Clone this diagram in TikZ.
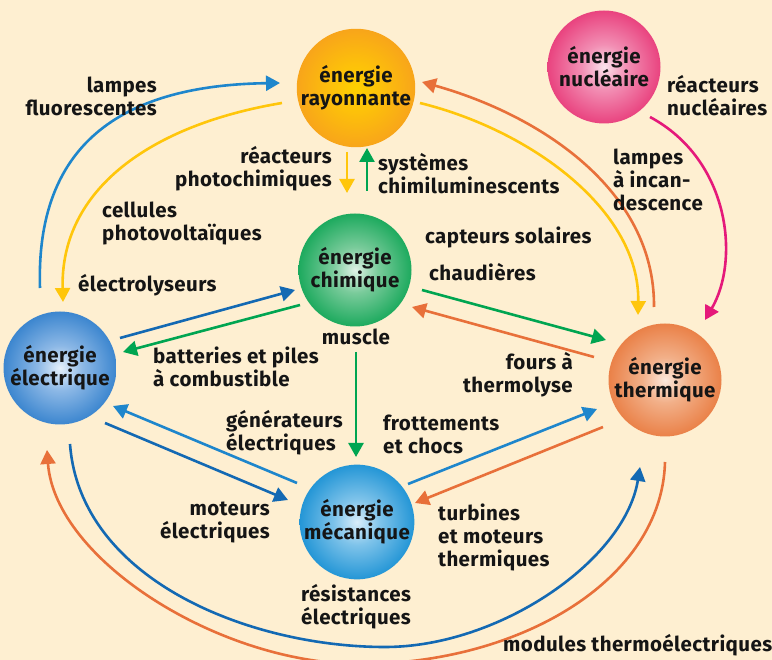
\documentclass[tikz,border=0pt]{standalone}
\usepackage{fontspec}
\setmainfont{Fira Sans}[LetterSpace=2]
\usetikzlibrary{arrows.meta}
\definecolor{bg}{HTML}{FEEFD1}
\definecolor{cblue}{HTML}{1E86CC}
\definecolor{cdblue}{HTML}{1369B3}
\definecolor{cyel}{HTML}{FFC60B}
\definecolor{cgreen}{HTML}{00A551}
\definecolor{corange}{HTML}{E8703A}
\definecolor{cpink}{HTML}{E5197A}
\definecolor{ink}{HTML}{151515}
\pgfdeclareradialshading{ballray}{\pgfpoint{0bp}{0bp}}{color(0bp)=(rgb,255:red,255;green,209;blue,0); color(10bp)=(rgb,255:red,253;green,193;blue,10); color(25bp)=(rgb,255:red,248;green,165;blue,26); color(50bp)=(rgb,255:red,243;green,144;blue,35)}
\pgfdeclareradialshading{ballnuc}{\pgfpoint{0bp}{0bp}}{color(0bp)=(rgb,255:red,251;green,227;blue,236); color(10bp)=(rgb,255:red,242;green,143;blue,180); color(25bp)=(rgb,255:red,233;green,67;blue,127); color(50bp)=(rgb,255:red,226;green,24;blue,106)}
\pgfdeclareradialshading{ballchim}{\pgfpoint{0bp}{0bp}}{color(0bp)=(rgb,255:red,224;green,242;blue,230); color(10bp)=(rgb,255:red,122;green,203;blue,155); color(25bp)=(rgb,255:red,29;green,170;blue,94); color(50bp)=(rgb,255:red,0;green,152;blue,74)}
\pgfdeclareradialshading{ballelec}{\pgfpoint{0bp}{0bp}}{color(0bp)=(rgb,255:red,230;green,240;blue,250); color(10bp)=(rgb,255:red,140;green,184;blue,230); color(25bp)=(rgb,255:red,60;green,134;blue,207); color(50bp)=(rgb,255:red,13;green,95;blue,170)}
\pgfdeclareradialshading{ballmeca}{\pgfpoint{0bp}{0bp}}{color(0bp)=(rgb,255:red,217;green,238;blue,250); color(10bp)=(rgb,255:red,126;green,195;blue,234); color(25bp)=(rgb,255:red,36;green,150;blue,214); color(50bp)=(rgb,255:red,0;green,128;blue,198)}
\pgfdeclareradialshading{balltherm}{\pgfpoint{0bp}{0bp}}{color(0bp)=(rgb,255:red,251;green,232;blue,220); color(10bp)=(rgb,255:red,242;green,176;blue,137); color(25bp)=(rgb,255:red,234;green,129;blue,72); color(50bp)=(rgb,255:red,228;green,105;blue,45)}
\begin{document}
\begin{tikzpicture}[x=1pt,y=-1pt,
  ball/.style={circle,minimum size=113pt,inner sep=0pt,align=center,text=ink,
    font=\bfseries\fontsize{20.5}{23}\selectfont,shade},
  lab/.style={inner sep=0pt,text=ink,font=\bfseries\fontsize{20.5}{23}\selectfont},
  arr/.style={line width=2.6pt,-{Triangle[length=14pt,width=15pt]}}]
\fill[bg] (0,0) rectangle (772,660);
\useasboundingbox (0,0) rectangle (772,660);
% energy balls
\node[ball,shading=ballray] (ray) at (356,88) {énergie\\rayonnante};
\node[ball,shading=ballnuc] (nuc) at (604,67) {énergie\\nucléaire};
\node[ball,shading=ballchim] (chim) at (355,270) {énergie\\chimique};
\node[ball,shading=ballelec] (elec) at (60,368) {énergie\\électrique};
\node[ball,shading=ballmeca] (meca) at (357,522) {énergie\\mécanique};
\node[ball,shading=balltherm] (therm) at (665,380) {énergie\\thermique};
% connector end points
\coordinate (a1s) at (40,288);  \coordinate (a1t) at (280,83);
\coordinate (a2s) at (282,103); \coordinate (a2t) at (63,302);
\coordinate (a3s) at (347,152); \coordinate (a3t) at (347,193);
\coordinate (a4s) at (367,191); \coordinate (a4t) at (367,148);
\coordinate (a5s) at (120,338); \coordinate (a5t) at (295,290);
\coordinate (a6s) at (300,305); \coordinate (a6t) at (123,352);
\coordinate (a7s) at (356,352); \coordinate (a7t) at (356,457);
\coordinate (a8s) at (297,483); \coordinate (a8t) at (113,406);
\coordinate (a9s) at (105,423); \coordinate (a9t) at (288,500);
\coordinate (a10s) at (408,484); \coordinate (a10t) at (597,409);
\coordinate (a11s) at (603,427); \coordinate (a11t) at (415,503);
\coordinate (a12s) at (422,290); \coordinate (a12t) at (606,340);
\coordinate (a13s) at (594,357); \coordinate (a13t) at (412,307);
\coordinate (a14s) at (420,103); \coordinate (a14t) at (638,315);
\coordinate (a15s) at (654,307); \coordinate (a15t) at (422,82);
\coordinate (a16s) at (650,117); \coordinate (a16t) at (705,320);
\coordinate (a17s) at (70,444);  \coordinate (a17m) at (385,647); \coordinate (a17t) at (640,467);
\coordinate (a18s) at (665,462); \coordinate (a18m) at (360,664); \coordinate (a18t) at (47,450);
% curved connectors
\draw[arr,cblue] (a1s) .. controls (35,130) and (140,85) .. (a1t);
\draw[arr,cyel] (a2s) .. controls (150,125) and (60,190) .. (a2t);
\draw[arr,cyel] (a14s) .. controls (530,130) and (640,210) .. (a14t);
\draw[arr,corange] (a15s) .. controls (655,190) and (540,115) .. (a15t);
\draw[arr,cpink] (a16s) .. controls (730,160) and (740,260) .. (a16t);
\draw[arr,cdblue] (a17s) .. controls (80,580) and (250,647) .. (a17m) .. controls (500,647) and (625,560) .. (a17t);
\draw[arr,corange] (a18s) .. controls (662,580) and (520,664) .. (a18m) .. controls (220,664) and (55,560) .. (a18t);
% straight connectors
\draw[arr,cyel] (a3s) -- (a3t);
\draw[arr,cgreen] (a4s) -- (a4t);
\draw[arr,cdblue] (a5s) -- (a5t);
\draw[arr,cgreen] (a6s) -- (a6t);
\draw[arr,cgreen] (a7s) -- (a7t);
\draw[arr,cblue] (a8s) -- (a8t);
\draw[arr,cdblue] (a9s) -- (a9t);
\draw[arr,cblue] (a10s) -- (a10t);
\draw[arr,corange] (a11s) -- (a11t);
\draw[arr,cgreen] (a12s) -- (a12t);
\draw[arr,corange] (a13s) -- (a13t);
% labels
\node[lab,anchor=east,align=right] (l1) at (157,96.5) {lampes\\fluorescentes};
\node[lab,anchor=east,align=right] (l2) at (332,168.5) {réacteurs\\photochimiques};
\node[lab,anchor=west,align=left] (l3) at (378,173.5) {systèmes\\chimiluminescents};
\node[lab,anchor=west,align=left] (l4) at (102,223) {cellules\\photovoltaïques};
\node[lab,anchor=west] (l5) at (78,285) {électrolyseurs};
\node[lab,anchor=west] (l6) at (425,237) {capteurs solaires};
\node[lab,anchor=west] (l7) at (429,272) {chaudières};
\node[lab,anchor=west,align=left] (l8) at (667,96) {réacteurs\\nucléaires};
\node[lab,anchor=west,align=left] (l9) at (613,180) {lampes\\à incan-\\descence};
\node[lab] (l10) at (356,337) {muscle};
\node[lab,anchor=west,align=left] (l11) at (153,366.5) {batteries et piles\\à combustible};
\node[lab,anchor=east,align=right] (l12) at (573,374.5) {fours à\\thermolyse};
\node[lab,anchor=west,align=left] (l13) at (226,432.5) {générateurs\\électriques};
\node[lab,anchor=west,align=left] (l14) at (383,434.5) {frottements\\et chocs};
\node[lab,anchor=east,align=right] (l15) at (270,522.5) {moteurs\\électriques};
\node[lab,anchor=west,align=left] (l16) at (438,537) {turbines\\et moteurs\\thermiques};
\node[lab,align=center] (l17) at (356,606.5) {résistances\\électriques};
\node[lab,anchor=west] (l18) at (503,645) {modules thermoélectriques};
\end{tikzpicture}
\end{document}
